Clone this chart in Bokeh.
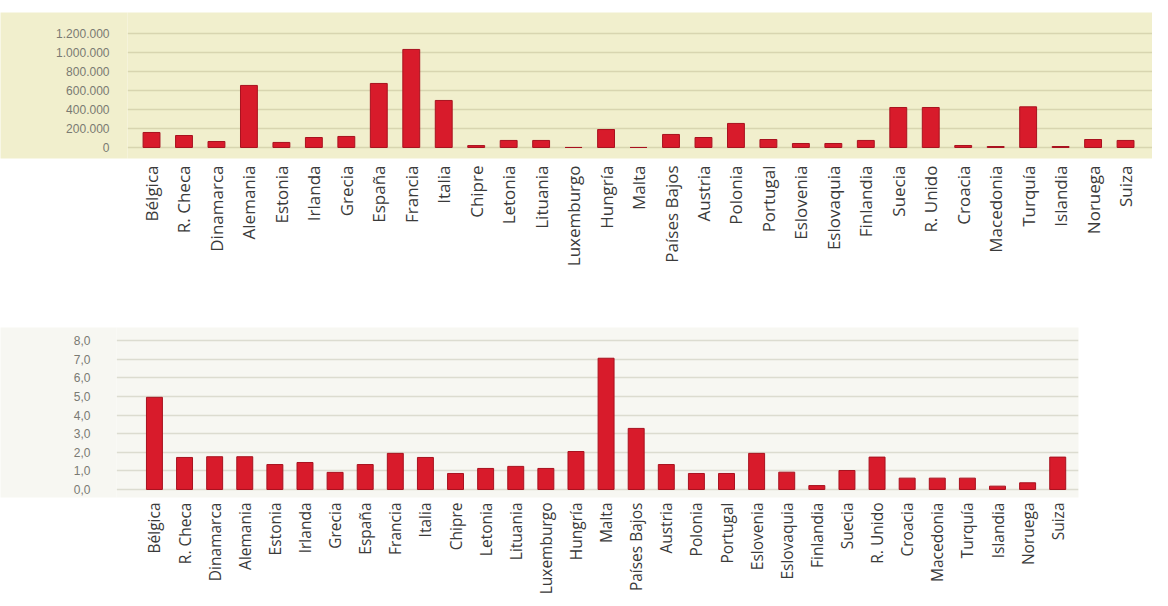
import math
from bokeh.plotting import figure
from bokeh.models import Range1d, FixedTicker
from bokeh.embed import file_html
from bokeh.resources import INLINE

countries = ["Bélgica", "R. Checa", "Dinamarca", "Alemania", "Estonia", "Irlanda", "Grecia",
             "España", "Francia", "Italia", "Chipre", "Letonia", "Lituania", "Luxemburgo",
             "Hungría", "Malta", "Países Bajos", "Austria", "Polonia", "Portugal", "Eslovenia",
             "Eslovaquia", "Finlandia", "Suecia", "R. Unido", "Croacia", "Macedonia", "Turquía",
             "Islandia", "Noruega", "Suiza"]

top_values = [158000, 126000, 63000, 653000, 53000, 105000, 116000,
              674000, 1032000, 495000, 20000, 74000, 74000, 0,
              189000, 0, 137000, 105000, 253000, 84000, 42000,
              42000, 74000, 421000, 421000, 21000, 10000, 428000,
              10000, 84000, 74000]

bottom_values = [4.95, 1.72, 1.76, 1.76, 1.34, 1.45, 0.92,
                 1.34, 1.94, 1.72, 0.86, 1.13, 1.24, 1.13,
                 2.04, 7.05, 3.28, 1.34, 0.86, 0.86, 1.94,
                 0.93, 0.21, 1.02, 1.74, 0.61, 0.61, 0.61,
                 0.18, 0.36, 1.74]

top_ticks = [0, 200000, 400000, 600000, 800000, 1000000, 1200000]
top_tick_labels = ["0", "200.000", "400.000", "600.000", "800.000", "1.000.000", "1.200.000"]
bottom_ticks = [0, 1, 2, 3, 4, 5, 6, 7, 8]
bottom_tick_labels = ["0,0", "1,0", "2,0", "3,0", "4,0", "5,0", "6,0", "7,0", "8,0"]

RED = "#d81b2b"
DARK_RED = "#a8121f"
YELLOW = "#f1efcd"
PALE = "#f7f7f2"

xs = list(range(len(countries)))
label_map = {i: c for i, c in enumerate(countries)}


def style(p, bg, grid_color, ticks, tick_labels, standoff, pad_standoff, xfont, xstandoff):
    p.background_fill_color = bg
    p.border_fill_color = "white"
    p.outline_line_color = None
    p.xgrid.visible = False
    p.ygrid.ticker = FixedTicker(ticks=ticks)
    p.ygrid.grid_line_color = grid_color
    p.ygrid.grid_line_width = 1.6
    ya = p.yaxis[0]
    ya.ticker = FixedTicker(ticks=ticks)
    ya.major_label_overrides = dict(zip(ticks, tick_labels))
    ya.axis_line_color = None
    ya.major_tick_line_color = None
    ya.minor_tick_line_color = None
    ya.major_tick_out = 0
    ya.major_label_standoff = standoff
    ya.major_label_text_font = "Liberation Sans"
    ya.major_label_text_font_size = "12px"
    ya.major_label_text_color = "#7a7a72"
    ya.axis_label = "\u00a0"
    ya.axis_label_text_font_size = "12px"
    ya.axis_label_standoff = pad_standoff
    ya.background_fill_color = bg
    xa = p.xaxis[0]
    xa.ticker = FixedTicker(ticks=xs)
    xa.major_label_overrides = label_map
    xa.major_label_orientation = math.pi / 2
    xa.axis_line_color = None
    xa.major_tick_line_color = None
    xa.minor_tick_line_color = None
    xa.major_tick_out = 0
    xa.major_label_standoff = xstandoff
    xa.major_label_text_font = "Open Sans"
    xa.major_label_text_font_size = xfont
    xa.major_label_text_color = "#3a3a3a"


p1 = figure(width=1152, height=308, output_backend="svg", toolbar_location=None,
            x_range=Range1d(-0.74, 30.83), y_range=Range1d(-116000, 1421000),
            min_border_left=123, min_border_right=0, min_border_top=12, min_border_bottom=150)
p1.vbar(x=xs, top=top_values, width=0.52, fill_color=RED, line_color=DARK_RED, line_width=1)
style(p1, YELLOW, "#d8d5b0", top_ticks, top_tick_labels, 18, 36, "17px", 7)

p2 = figure(width=1152, height=290, output_backend="svg", toolbar_location=None,
            x_range=Range1d(-1.26, 30.69), y_range=Range1d(-0.43, 8.7),
            min_border_left=111, min_border_right=74, min_border_top=19, min_border_bottom=101)
p2.vbar(x=xs, top=bottom_values, width=0.53, fill_color=RED, line_color=DARK_RED, line_width=1)
style(p2, PALE, "#dcdcd0", bottom_ticks, bottom_tick_labels, 26, 53, "15.5px", 5)

open("out.html", "w").write(file_html([p1, p2], INLINE))
